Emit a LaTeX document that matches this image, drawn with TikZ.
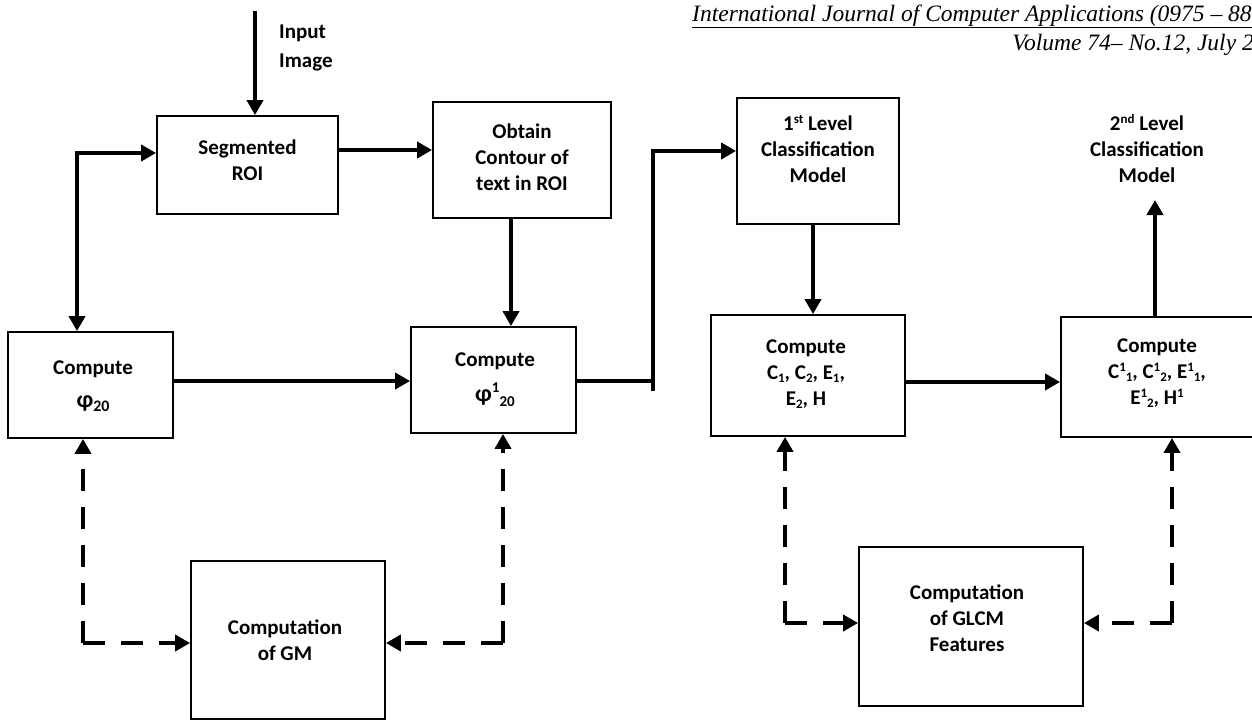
\documentclass[tikz,border=0pt]{standalone}
\usepackage{fontspec}
\setmainfont{Carlito}
\newfontfamily\tnr{Liberation Serif}
\usetikzlibrary{arrows.meta}
\newcommand\supx[1]{\raisebox{7pt}{\fontsize{13}{13}\selectfont #1}}
\newcommand\subx[1]{\raisebox{-3.5pt}{\fontsize{13}{13}\selectfont #1}}
\begin{document}
\begin{tikzpicture}[x=1pt,y=-1pt,
  >={Triangle[length=15pt,width=16pt]},
  box/.style={draw, line width=1.8pt, inner sep=0pt},
  txt/.style={align=center, inner sep=0pt, font=\bfseries\fontsize{21}{26}\selectfont},
  conn/.style={line width=4.5pt},
  dconn/.style={line width=4.5pt, dash pattern=on 22pt off 16pt},
  hdr/.style={inner sep=0pt, font=\tnr\itshape\fontsize{23.5}{28}\selectfont}]
\path[use as bounding box, clip] (0,0) rectangle (1252,720);
\fill[white] (0,0) rectangle (1252,720);

% header
\node[hdr, anchor=base west] (h1) at (692,21) {\underline{International Journal of Computer Applications (0975 – 88}};
\node[hdr, anchor=base east] (h2) at (1254,50) {Volume 74– No.12, July 2};

% boxes
\node[box, minimum width=181pt, minimum height=98pt] (seg) at (247.5,165) {};
\node[box, minimum width=178pt, minimum height=116pt] (obt) at (522,160) {};
\node[box, minimum width=162pt, minimum height=126pt] (first) at (818,161) {};
\node[box, minimum width=165pt, minimum height=106pt] (phiA) at (90.5,385) {};
\node[box, minimum width=165pt, minimum height=106pt] (phiB) at (493.5,380) {};
\node[box, minimum width=194pt, minimum height=121pt] (compA) at (808,375.5) {};
\node[box, minimum width=195pt, minimum height=120pt] (compB) at (1158.5,377) {};
\node[box, minimum width=194pt, minimum height=158pt] (gm) at (288,640) {};
\node[box, minimum width=224pt, minimum height=159pt] (glcm) at (971,626.5) {};

% texts
\node[txt, align=left, anchor=west, font=\bfseries\fontsize{21}{29}\selectfont] (tin) at (279,47.5) {Input\\Image};
\node[txt] (tseg) at (247.5,160) {Segmented\\ROI};
\node[txt] (tobt) at (522,157) {Obtain\\Contour of\\text in ROI};
\node[txt] (tfirst) at (818,149) {1\supx{st} Level\\Classification\\Model};
\node[txt] (tsecond) at (1147,149) {2\supx{nd} Level\\Classification\\Model};
\node[txt] (tphiA) at (93,386) {Compute\\[7pt]{\fontsize{24}{24}\selectfont φ}\raisebox{-4pt}{\fontsize{16}{16}\selectfont 20}};
\node[txt] (tphiB) at (495,380) {Compute\\[9pt]{\fontsize{24}{24}\selectfont φ}\raisebox{9pt}{\fontsize{15}{15}\selectfont 1}\raisebox{-5pt}{\fontsize{15}{15}\selectfont 20}};
\node[txt] (tcompA) at (806,374) {Compute\\C\subx{1}, C\subx{2}, E\subx{1},\\E\subx{2}, H};
\node[txt] (tcompB) at (1157,373) {Compute\\C\supx{1}\subx{1}, C\supx{1}\subx{2}, E\supx{1}\subx{1},\\E\supx{1}\subx{2}, H\supx{1}};
\node[txt] (tgm) at (285,640) {Computation\\of GM};
\node[txt] (tglcm) at (967,618) {Computation\\of GLCM\\Features};

% connector helper coordinates
\coordinate (inp) at (255,11);
\coordinate (jb) at (653,391);
\coordinate (outp) at (1155,200);
\coordinate (cA) at (83,643);
\coordinate (cB) at (503,643);
\coordinate (cC) at (785,623);
\coordinate (cD) at (1172,623);

% solid connectors
\draw[conn,->] (inp) -- (inp |- seg.north);
\draw[conn,<->] ([yshift=12pt]seg.west) -| ([xshift=-13.5pt]phiA.north);
\draw[conn,->] ([yshift=15pt]seg.east) -- ([yshift=15pt]seg.east -| obt.west);
\draw[conn,->] ([xshift=-11pt]obt.south) -- ([xshift=-11pt]obt.south |- phiB.north);
\draw[conn,->] ([yshift=4pt]phiA.east) -- ([yshift=4pt]phiA.east -| phiB.west);
\draw[conn] ([yshift=-1pt]phiB.east) -- ([yshift=-1pt]phiB.east -| jb);
\draw[conn,->] (jb) |- ([yshift=10pt]first.west);
\draw[conn,->] ([xshift=-5pt]first.south) -- ([xshift=-5pt]first.south |- compA.north);
\draw[conn,->] ([yshift=-6.5pt]compA.east) -- ([yshift=-6.5pt]compA.east -| compB.west);
\draw[conn,->] (compB.north -| outp) -- (outp);

% dashed connectors (each leg starts at its corner)
\draw[dconn,->] (cA) -- (cA |- phiA.south);
\draw[dconn,->] (cA) -- (cA -| gm.west);
\draw[dconn,->] (cB) -- (cB |- phiB.south);
\draw[dconn,->] (cB) -- (cB -| gm.east);
\draw[dconn,->] (cC) -- (cC |- compA.south);
\draw[dconn,->] (cC) -- (cC -| glcm.west);
\draw[dconn,->] (cD) -- (cD |- compB.south);
\draw[dconn,->] (cD) -- (cD -| glcm.east);
\end{tikzpicture}
\end{document}
